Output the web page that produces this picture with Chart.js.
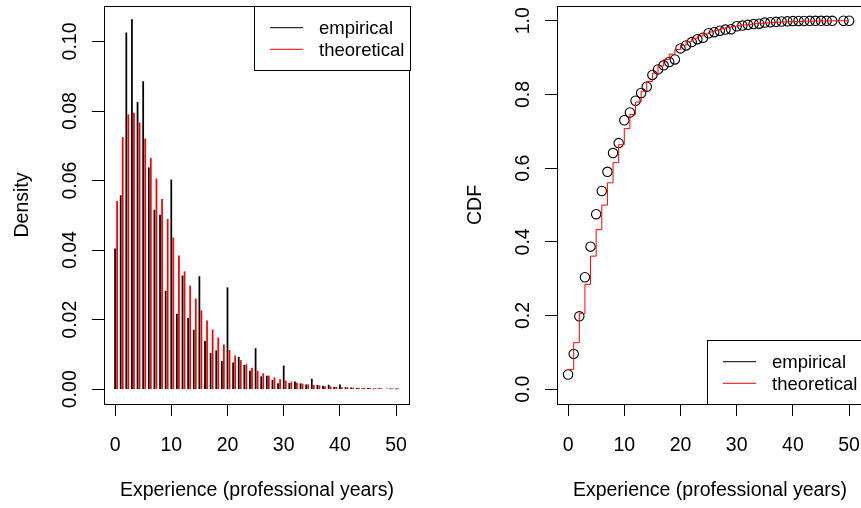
<!DOCTYPE html>
<html>
<head>
<meta charset="utf-8">
<script src="https://cdn.jsdelivr.net/npm/chart.js@4.4.1/dist/chart.umd.min.js"></script>
<style>
  html, body { margin: 0; padding: 0; background: #fff; overflow: hidden; }
  #wrap { position: relative; width: 861px; height: 508px; overflow: hidden; background: #fff; }
  canvas { position: absolute; top: 0; }
</style>
</head>
<body>
<div id="wrap">
  <canvas id="dens" width="430" height="508" style="left:0px"></canvas>
  <canvas id="cdf" width="440" height="508" style="left:430px"></canvas>
</div>
<script>
// ---------------- data ----------------
const years = [0,1,2,3,4,5,6,7,8,9,10,11,12,13,14,15,16,17,18,19,20,21,22,23,24,25,
  26,27,28,29,30,31,32,33,34,35,36,37,38,39,40,41,42,43,44,45,46,47,48,49,50];

const empiricalDensity = [0.0404,0.0557,0.1025,0.1063,0.0825,0.0885,0.0637,0.0515,0.0501,0.0282,
  0.0602,0.0216,0.0326,0.0204,0.0170,0.0324,0.0138,0.0103,0.0111,0.0080,
  0.0292,0.0076,0.0092,0.0069,0.0052,0.0117,0.0036,0.0038,0.0026,0.0016,
  0.0067,0.0017,0.0021,0.0016,0.0013,0.0029,0.0011,0.0009,0.0012,0.0006,
  0.0013,0.0005,0.0004,0.0003,0.0002,0.0003,0.0001,0.0002,null,0.0001,0.0001];

const theoreticalDensity = [0.0540,0.0724,0.0789,0.0794,0.0766,0.0720,0.0664,0.0605,0.0546,0.0489,
  0.0435,0.0384,0.0338,0.0297,0.0260,0.0226,0.0197,0.0171,0.0148,0.0128,
  0.0112,0.0096,0.0083,0.0071,0.0061,0.0052,0.0045,0.0038,0.0033,0.0028,
  0.0024,0.0021,0.0018,0.0015,0.0013,0.0011,0.0010,0.0008,0.0007,0.0006,
  0.0005,0.00045,0.0004,0.00033,0.00028,0.00024,0.0002,0.00018,0.00015,0.00013,0.00011];

const ecdfX = [0,1,2,3,4,5,6,7,8,9,10,11,12,13,14,15,16,17,18,19,20,21,22,23,24,25,
  26,27,28,29,30,31,32,33,34,35,36,37,38,39,40,41,42,43,44,45,46,47,49,50];
const ecdfY = [0.040,0.096,0.198,0.304,0.387,0.475,0.538,0.590,0.641,0.668,
  0.730,0.751,0.783,0.804,0.821,0.853,0.868,0.879,0.888,0.895,
  0.925,0.933,0.942,0.950,0.954,0.966,0.969,0.973,0.976,0.977,
  0.985,0.987,0.989,0.991,0.992,0.995,0.996,0.997,0.998,0.9985,
  0.9992,0.9995,0.9996,0.9997,0.9998,0.9998,0.9999,0.9999,0.99995,1.0];

const theoreticalCdf = [0.0540,0.1264,0.2053,0.2847,0.3613,0.4333,0.4997,0.5602,0.6148,0.6637,
  0.7072,0.7456,0.7794,0.8091,0.8351,0.8577,0.8774,0.8945,0.9093,0.9221,
  0.9333,0.9429,0.9512,0.9583,0.9644,0.9696,0.9741,0.9779,0.9812,0.9840,
  0.9864,0.9885,0.9903,0.9918,0.9931,0.9942,0.9952,0.9960,0.9967,0.9973,
  0.9978,0.9982,0.9986,0.9989,0.9992,0.9994,0.9996,0.9998,0.9999,1.0000,1.0000];

const xTickValues = [0,10,20,30,40,50];
const xTickLabels = ["0","10","20","30","40","50"];
const densTickValues = [0,0.02,0.04,0.06,0.08,0.10];
const densTickLabels = ["0.00","0.02","0.04","0.06","0.08","0.10"];
const cdfTickValues = [0,0.2,0.4,0.6,0.8,1.0];
const cdfTickLabels = ["0.0","0.2","0.4","0.6","0.8","1.0"];
const xTitle = "Experience (professional years)";
const legendLabels = ["empirical","theoretical"];

// ---------------- styles ----------------
const FONT = '"Liberation Sans", Arial, Helvetica, sans-serif';
const TICK_FONT = '19.5px ' + FONT;
const LAB_FONT = '19.5px ' + FONT;
const LEG_FONT = '18.5px ' + FONT;
const RED = '#ff0000';
const redShift = 0.36;

function fixedTicks(values) {
  return function(scale) { scale.ticks = values.map(v => ({ value: v })); };
}

function rPlotPlugin(cfg) {
  return {
    id: 'rplot',
    afterDraw(chart) {
      const ctx = chart.ctx;
      const a = chart.chartArea;
      const xs = chart.scales.x, ys = chart.scales.y;
      ctx.save();
      ctx.fillStyle = '#000';
      ctx.strokeStyle = '#000';
      ctx.lineWidth = 1;
      // box
      const L = Math.round(a.left), R = Math.round(a.right), T = Math.round(a.top), B = Math.round(a.bottom);
      ctx.strokeRect(L + 0.5, T + 0.5, R - L - 1, B - T);
      // x tick labels
      ctx.font = TICK_FONT;
      ctx.textAlign = 'center';
      ctx.textBaseline = 'alphabetic';
      xTickValues.forEach((v, i) => {
        ctx.fillText(xTickLabels[i], xs.getPixelForValue(v), a.bottom + 46.5);
      });
      // x title
      ctx.font = LAB_FONT;
      ctx.fillText(xTitle, (a.left + a.right) / 2, a.bottom + 92);
      // y tick labels (rotated)
      ctx.font = TICK_FONT;
      cfg.yTicks.forEach((v, i) => {
        ctx.save();
        ctx.translate(a.left - 28, ys.getPixelForValue(v));
        ctx.rotate(-Math.PI / 2);
        ctx.textAlign = 'center';
        ctx.fillText(cfg.yLabels[i], 0, 0);
        ctx.restore();
      });
      // y title
      ctx.save();
      ctx.font = LAB_FONT;
      ctx.translate(a.left - 76.3, (a.top + a.bottom) / 2);
      ctx.rotate(-Math.PI / 2);
      ctx.textAlign = 'center';
      ctx.fillText(cfg.yTitle, 0, 0);
      ctx.restore();
      // legend
      const lw = 156, lh = 64;
      const lx = R - lw;
      const ly = cfg.legendTop ? T : B - lh;
      ctx.fillStyle = '#fff';
      ctx.fillRect(lx, ly, lw, lh);
      ctx.strokeStyle = '#000';
      ctx.strokeRect(Math.round(lx) + 0.5, Math.round(ly) + 0.5, lw, lh);
      const rows = [[legendLabels[0], '#000', 21.7], [legendLabels[1], RED, 43.3]];
      ctx.font = LEG_FONT;
      ctx.textAlign = 'left';
      rows.forEach(([txt, col, dy]) => {
        ctx.strokeStyle = col;
        ctx.beginPath();
        ctx.moveTo(lx + 16, ly + dy);
        ctx.lineTo(lx + 49, ly + dy);
        ctx.stroke();
        ctx.fillStyle = '#000';
        ctx.fillText(txt, lx + 65, ly + dy + 6.7);
      });
      ctx.restore();
    }
  };
}

function sizeFix(px) { return function(scale) { if (scale.isHorizontal()) scale.height = px; else scale.width = px; }; }

const gridCfg = { display: true, drawOnChartArea: false, drawTicks: true, tickLength: 12, color: '#000', lineWidth: 1, offset: false };

// ---------------- left: density ----------------
new Chart(document.getElementById('dens'), {
  type: 'bar',
  data: {
    datasets: [
      {
        label: legendLabels[0],
        data: years.map((k, i) => ({ x: k, y: empiricalDensity[i] })),
        backgroundColor: '#000',
        barThickness: 1.1,
        grouped: false,
        order: 1
      },
      {
        label: legendLabels[1],
        data: years.map((k, i) => ({ x: k + redShift, y: theoreticalDensity[i] })),
        backgroundColor: RED,
        barThickness: 1.1,
        grouped: false,
        order: 0
      }
    ]
  },
  options: {
    responsive: false,
    animation: false,
    devicePixelRatio: 1,
    layout: { padding: { left: 0, top: 6, right: 20, bottom: 0 } },
    plugins: { legend: { display: false }, tooltip: { enabled: false } },
    scales: {
      x: {
        type: 'linear', min: -1.97, max: 52.47, offset: false,
        afterBuildTicks: fixedTicks(xTickValues), afterFit: sizeFix(104),
        ticks: { display: false }, grid: gridCfg, border: { display: false }
      },
      y: {
        type: 'linear', min: -0.00424, max: 0.1102,
        afterBuildTicks: fixedTicks(densTickValues), afterFit: sizeFix(104),
        ticks: { display: false }, grid: gridCfg, border: { display: false }
      }
    }
  },
  plugins: [rPlotPlugin({ yTicks: densTickValues, yLabels: densTickLabels, yTitle: 'Density', legendTop: true })]
});

// ---------------- right: CDF ----------------
new Chart(document.getElementById('cdf'), {
  type: 'scatter',
  data: {
    datasets: [
      {
        label: legendLabels[1],
        type: 'line',
        data: years.map((k, i) => ({ x: k, y: theoreticalCdf[i] })),
        borderColor: RED,
        borderWidth: 1,
        pointRadius: 0,
        stepped: 'before',
        fill: false,
        order: 0
      },
      {
        label: legendLabels[0],
        data: ecdfX.map((k, i) => ({ x: k, y: ecdfY[i] })),
        pointStyle: 'circle',
        pointRadius: 4.7,
        pointBorderWidth: 1.1,
        pointBorderColor: '#000',
        pointBackgroundColor: 'rgba(0,0,0,0)',
        showLine: false,
        order: 1
      }
    ]
  },
  options: {
    responsive: false,
    animation: false,
    devicePixelRatio: 1,
    layout: { padding: { left: 0, top: 6, right: 7, bottom: 0 } },
    plugins: { legend: { display: false }, tooltip: { enabled: false } },
    scales: {
      x: {
        type: 'linear', min: -1.97, max: 52.47, offset: false,
        afterBuildTicks: fixedTicks(xTickValues), afterFit: sizeFix(104),
        ticks: { display: false }, grid: gridCfg, border: { display: false }
      },
      y: {
        type: 'linear', min: -0.04, max: 1.04,
        afterBuildTicks: fixedTicks(cdfTickValues), afterFit: sizeFix(127),
        ticks: { display: false }, grid: gridCfg, border: { display: false }
      }
    }
  },
  plugins: [rPlotPlugin({ yTicks: cdfTickValues, yLabels: cdfTickLabels, yTitle: 'CDF', legendTop: false })]
});
</script>
</body>
</html>
